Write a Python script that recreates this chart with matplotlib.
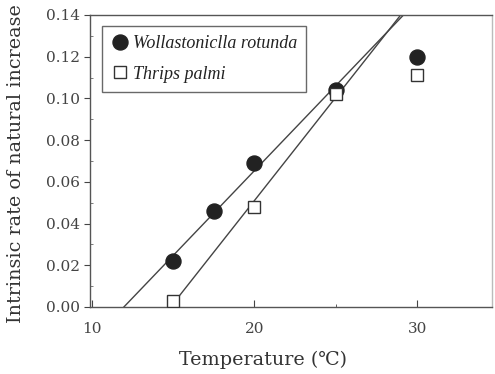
import numpy as np
import matplotlib
matplotlib.use("Agg")
import matplotlib.pyplot as plt
from matplotlib.ticker import MultipleLocator, FormatStrFormatter

temp_w = [15, 17.5, 20, 25, 30]
r_w = [0.022, 0.046, 0.069, 0.104, 0.120]
temp_t = [15, 20, 25, 30]
r_t = [0.003, 0.048, 0.102, 0.111]

# regression over linear range (15-25 C)
fit_w = np.polyfit(temp_w[:4], r_w[:4], 1)
fit_t = np.polyfit(temp_t[:3], r_t[:3], 1)

plt.rcParams['font.family'] = ['DejaVu Serif']
fig = plt.figure(figsize=(4.95, 3.74), dpi=100)
ax = fig.add_axes([90/495, 1-307/374, 402/495, 292/374])

ymax = 0.14
x0w = -fit_w[1]/fit_w[0]
x1w = (ymax - fit_w[1])/fit_w[0]
xw = np.array([x0w, x1w])
ax.plot(xw, np.polyval(fit_w, xw), color='#444444', lw=1.0, zorder=1)
x1t = (ymax - fit_t[1])/fit_t[0]
xt = np.array([temp_t[0], x1t])
ax.plot(xt, np.polyval(fit_t, xt), color='#444444', lw=1.0, zorder=1)

ax.plot(temp_w, r_w, 'o', ms=10.8, color='#222222', mec='#222222',
        label='Wollastoniclla rotunda', zorder=3)
ax.plot(temp_t, r_t, 's', ms=9, mfc='white', mec='#333333', mew=1.0,
        label='Thrips palmi', zorder=4)

ax.set_xlim(9.9, 34.6)
ax.set_ylim(0, ymax)
ax.xaxis.set_major_locator(MultipleLocator(10))
ax.xaxis.set_minor_locator(MultipleLocator(5))
ax.yaxis.set_major_locator(MultipleLocator(0.02))
ax.yaxis.set_minor_locator(MultipleLocator(0.01))
ax.yaxis.set_major_formatter(FormatStrFormatter('%.2f'))
ax.tick_params(axis='x', which='both', direction='in', labelsize=11, colors='#444444', pad=11)
ax.tick_params(axis='x', which='major', length=5)
ax.tick_params(axis='x', which='minor', length=2)
ax.tick_params(axis='y', which='major', direction='out', length=4, labelsize=11,
               colors='#444444', pad=3)
ax.tick_params(axis='y', which='minor', direction='in', length=2, colors='#666666')
for s in ax.spines.values():
    s.set_color('#555555')
    s.set_linewidth(1.0)
ax.spines['right'].set_color('#bbbbbb')

ax.set_xlabel('Temperature (\u2103)', fontsize=13.8, color='#333333', va='center')
ax.xaxis.set_label_coords(0.43, -0.18)
ax.set_ylabel('Intrinsic rate of natural increase', fontsize=13.8, color='#333333', va='center')
ax.yaxis.set_label_coords(-0.184, 0.49)

leg = ax.legend(loc='upper left', bbox_to_anchor=(0.03, 0.962), borderaxespad=0,
                frameon=True, fancybox=False, edgecolor='#444444',
                handletextpad=0.2, handlelength=1.0, borderpad=0.5,
                labelspacing=0.75,
                prop={'family': 'Liberation Serif', 'style': 'italic', 'size': 13})
leg.get_frame().set_linewidth(1.0)
for t in leg.get_texts():
    t.set_color('#222222')

fig.savefig('out.png', dpi=100)
